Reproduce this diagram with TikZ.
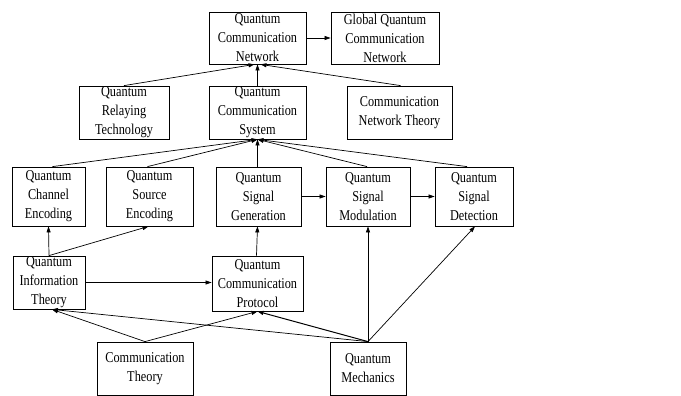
\documentclass[tikz,border=0pt]{standalone}
\usepackage{fontspec}
\setmainfont{Liberation Serif}[FakeStretch=0.82]
\usetikzlibrary{arrows.meta}
\begin{document}
\begin{tikzpicture}[x=1pt,y=-1pt,
  box/.style={draw,line width=0.8pt,inner sep=0pt,align=center,
    font=\fontsize{15}{19}\selectfont},
  conn/.style={line width=0.7pt,-{Triangle[length=6pt,width=4pt]}}]
\useasboundingbox (0,0) rectangle (681,396);
\node[box,minimum width=97pt,minimum height=52pt] (qcn) at (257.5,38) {Quantum\\Communication\\Network};
\node[box,minimum width=108pt,minimum height=52pt] (gqcn) at (385,38) {Global Quantum\\Communication\\Network};
\node[box,minimum width=90pt,minimum height=53pt] (relay) at (124,112.5) {Quantum\\Relaying\\Technology};
\node[box,minimum width=97pt,minimum height=53pt] (qcs) at (257.5,112.5) {Quantum\\Communication\\System};
\node[box,minimum width=105pt,minimum height=53pt] (cnt) at (399.5,112.5) {Communication\\Network Theory};
\node[box,minimum width=73pt,minimum height=59pt] (chan) at (48.5,196.5) {Quantum\\Channel\\Encoding};
\node[box,minimum width=87pt,minimum height=59pt] (src) at (149.5,196.5) {Quantum\\Source\\Encoding};
\node[box,minimum width=85pt,minimum height=59pt] (gen) at (258.5,196.5) {Quantum\\Signal\\Generation};
\node[box,minimum width=84pt,minimum height=59pt] (mod) at (368,196.5) {Quantum\\Signal\\Modulation};
\node[box,minimum width=78pt,minimum height=59pt] (det) at (474,196.5) {Quantum\\Signal\\Detection};
\node[box,minimum width=72pt,minimum height=53pt] (qit) at (49,282.5) {Quantum\\Information\\Theory};
\node[box,minimum width=91pt,minimum height=55pt] (prot) at (257.5,283.5) {Quantum\\Communication\\Protocol};
\node[box,minimum width=96pt,minimum height=53pt] (ct) at (145,368.5) {Communication\\Theory};
\node[box,minimum width=76pt,minimum height=53pt] (qm) at (368,368.5) {Quantum\\Mechanics};

\draw[conn] (qcn.east) -- (gqcn.west);
\draw[conn] (relay.north) -- ([xshift=-3pt]qcn.south);
\draw[conn] (qcs.north) -- (qcn.south);
\draw[conn] ([xshift=1pt]cnt.north) -- ([xshift=3pt]qcn.south);

\draw[conn] ([xshift=4pt]chan.north) -- (qcs.south);
\draw[conn] ([xshift=-2pt]src.north) -- (qcs.south);
\draw[conn] ([xshift=-1pt]gen.north) -- (qcs.south);
\draw[conn] ([xshift=-1pt]mod.north) -- (qcs.south);
\draw[conn] ([xshift=-7pt]det.north) -- (qcs.south);
\draw[conn] (gen.east) -- (mod.west);
\draw[conn] (mod.east) -- (det.west);

\draw[conn] (qit.north) -- (chan.south);
\draw[conn] (qit.north) -- ([xshift=-1pt]src.south);
\draw[conn] ([xshift=-1pt]prot.north) -- ([xshift=-1pt]gen.south);
\draw[conn] (qit.east) -- (qit.east -| prot.west);

\draw[conn] (ct.north) -- ([xshift=3pt]qit.south);
\draw[conn] (ct.north) -- (prot.south);
\draw[conn] (qm.north) -- ([xshift=3pt]qit.south);
\draw[conn,line width=1pt] (qm.north) -- (prot.south);
\draw[conn] (qm.north) -- (mod.south);
\draw[conn] (qm.north) -- ([xshift=1pt]det.south);
\end{tikzpicture}
\end{document}
